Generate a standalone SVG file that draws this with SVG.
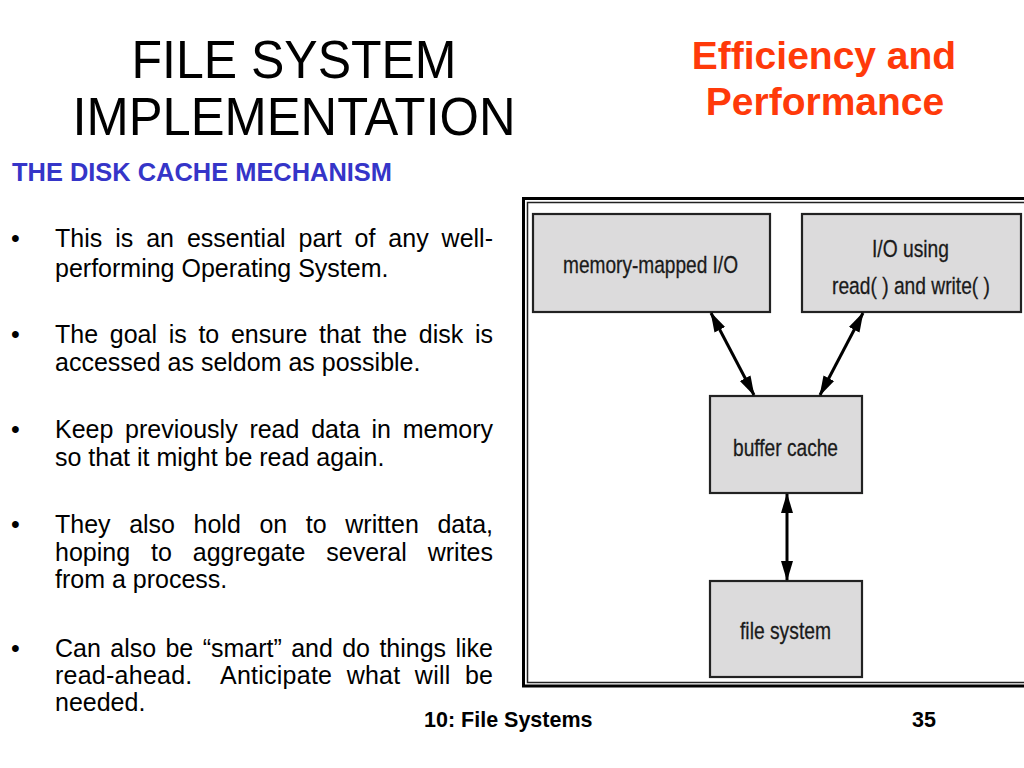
<svg xmlns="http://www.w3.org/2000/svg" width="1024" height="768" viewBox="0 0 1024 768">
  <style>
    .title { font-family: "Liberation Sans", Arial, sans-serif; font-size: 53px; fill: #000; }
    .sub { font-family: "Liberation Sans", Arial, sans-serif; font-size: 39px; font-weight: bold; fill: #ff3a0a; }
    .head { font-family: "Liberation Sans", Arial, sans-serif; font-size: 25px; font-weight: bold; fill: #3535c8; }
    .body { font-family: "Liberation Sans", Arial, sans-serif; font-size: 25px; fill: #000; white-space: pre; }
    .foot { font-family: "Liberation Sans", Arial, sans-serif; font-size: 21.5px; font-weight: bold; fill: #000; }
    .box { fill: #dcdbdc; stroke: #222; stroke-width: 2.2; }
    .lbl { font-family: "Liberation Sans", Arial, sans-serif; font-size: 24.5px; fill: #1a1a1a; stroke: #1a1a1a; stroke-width: 0.3; }
    .conn { stroke: #000; stroke-width: 3; fill: none; marker-start: url(#ah); marker-end: url(#ah); }
  </style>
  <defs>
    <marker id="ah" markerUnits="userSpaceOnUse" markerWidth="20" markerHeight="14" viewBox="0 0 20 14" refX="19" refY="7" orient="auto-start-reverse">
      <path d="M0,1 L20,7 L0,13 Z" fill="#000"/>
    </marker>
  </defs>
  <rect width="1024" height="768" fill="#fff"/>

  <g id="titles">
    <text class="title" x="294" y="78" text-anchor="middle" textLength="325" lengthAdjust="spacingAndGlyphs">FILE SYSTEM</text>
    <text class="title" x="294" y="135" text-anchor="middle" textLength="443" lengthAdjust="spacingAndGlyphs">IMPLEMENTATION</text>
    <text class="sub" x="824" y="69" text-anchor="middle">Efficiency and</text>
    <text class="sub" x="825" y="115" text-anchor="middle">Performance</text>
    <text class="head" x="12" y="181" textLength="380" lengthAdjust="spacingAndGlyphs">THE DISK CACHE MECHANISM</text>
  </g>

  <g id="bullets">
    <text class="body" x="11" y="247">•</text>
    <text class="body" x="55" y="247" word-spacing="6" textLength="438" lengthAdjust="spacing">This is an essential part of any well-</text>
    <text class="body" x="55" y="277">performing Operating System.</text>

    <text class="body" x="11" y="343">•</text>
    <text class="body" x="55" y="343" word-spacing="4.7" textLength="438" lengthAdjust="spacing">The goal is to ensure that the disk is</text>
    <text class="body" x="55" y="371">accessed as seldom as possible.</text>

    <text class="body" x="11" y="438">•</text>
    <text class="body" x="55" y="438" word-spacing="4.8" textLength="438" lengthAdjust="spacing">Keep previously read data in memory</text>
    <text class="body" x="55" y="466">so that it might be read again.</text>

    <text class="body" x="11" y="533">•</text>
    <text class="body" x="55" y="533" word-spacing="11.7" textLength="438" lengthAdjust="spacing">They also hold on to written data,</text>
    <text class="body" x="55" y="561" word-spacing="14" textLength="438" lengthAdjust="spacing">hoping to aggregate several writes</text>
    <text class="body" x="55" y="588">from a process.</text>

    <text class="body" x="11" y="657">•</text>
    <text class="body" x="55" y="657" word-spacing="2.4" textLength="438" lengthAdjust="spacing">Can also be “smart” and do things like</text>
    <text class="body" x="55" y="684" word-spacing="7.2" textLength="438" lengthAdjust="spacing">read-ahead.  Anticipate what will be</text>
    <text class="body" x="55" y="711">needed.</text>
  </g>

  <g id="footer">
    <text class="foot" x="424" y="727">10: File Systems</text>
    <text class="foot" x="912" y="727">35</text>
  </g>

  <g id="frame">
    <path d="M1024,198.5 H523.5 V686 H1024" fill="none" stroke="#000" stroke-width="3"/>
    <path d="M1024,202.5 H527.5 V682.5 H1024" fill="none" stroke="#222" stroke-width="1.5"/>
  </g>

  <g id="node-mmio">
    <rect class="box" x="533" y="214" width="237" height="98"/>
    <text class="lbl" x="650.5" y="273" text-anchor="middle" textLength="175" lengthAdjust="spacingAndGlyphs">memory-mapped I/O</text>
  </g>
  <g id="node-rw">
    <rect class="box" x="802" y="214" width="219" height="98"/>
    <text class="lbl" x="910.5" y="257" text-anchor="middle" textLength="77" lengthAdjust="spacingAndGlyphs">I/O using</text>
    <text class="lbl" x="911" y="294" text-anchor="middle" textLength="158" lengthAdjust="spacingAndGlyphs">read( ) and write( )</text>
  </g>
  <g id="node-buffer">
    <rect class="box" x="710" y="396" width="152" height="97"/>
    <text class="lbl" x="785.5" y="456" text-anchor="middle" textLength="105" lengthAdjust="spacingAndGlyphs">buffer cache</text>
  </g>
  <g id="node-fs">
    <rect class="box" x="710" y="581" width="152" height="96"/>
    <text class="lbl" x="785.5" y="639" text-anchor="middle" textLength="91" lengthAdjust="spacingAndGlyphs">file system</text>
  </g>

  <g id="connectors">
    <line class="conn" x1="711" y1="313" x2="754" y2="395"/>
    <line class="conn" x1="863" y1="313" x2="820" y2="395"/>
    <line class="conn" x1="787" y1="494" x2="787" y2="580"/>
  </g>
</svg>
